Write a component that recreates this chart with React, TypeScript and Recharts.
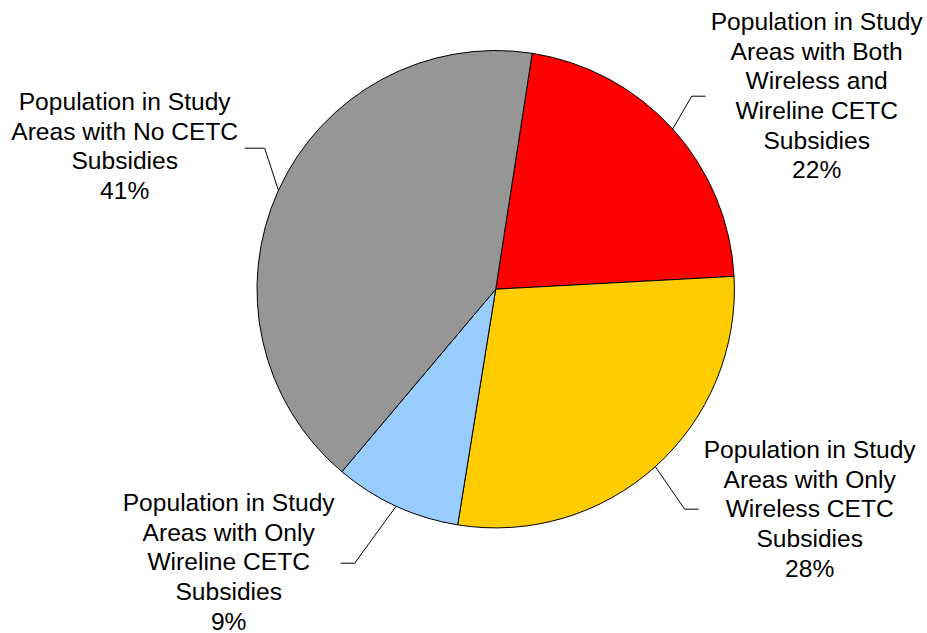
import React from "react";
import { PieChart, Pie, Cell } from "recharts";

const categories = [
  "Population in Study Areas with Both Wireless and Wireline CETC Subsidies",
  "Population in Study Areas with Only Wireless CETC Subsidies",
  "Population in Study Areas with Only Wireline CETC Subsidies",
  "Population in Study Areas with No CETC Subsidies",
];
const labelLines = [
  ["Population in Study", "Areas with Both", "Wireless and", "Wireline CETC", "Subsidies"],
  ["Population in Study", "Areas with Only", "Wireless CETC", "Subsidies"],
  ["Population in Study", "Areas with Only", "Wireline CETC", "Subsidies"],
  ["Population in Study", "Areas with No CETC", "Subsidies"],
];
const shares = [21.7, 28.4, 8.6, 41.3];
const colors = ["#FF0000", "#FFCC00", "#99CCFF", "#969696"];

const data = categories.map((name, i) => ({ name, value: shares[i] }));

// label layout relative to pie center: elbow point, line end x, text center x, first baseline y
const layout = [
  { ex: 196, ey: -193, endX: 210, tx: 321, ty: -259 },
  { ex: 189, ey: 220, endX: 203, tx: 314, ty: 169 },
  { ex: -141, ey: 274, endX: -155, tx: -267, ty: 222 },
  { ex: -231, ey: -141, endX: -251, tx: -371, ty: -179 },
];

const RAD = Math.PI / 180;
const LINE_H = 29.6;

const renderLabel = (props: any) => {
  const { cx, cy, midAngle, outerRadius, index, percent } = props;
  const L = layout[index];
  const sx = cx + outerRadius * Math.cos(-midAngle * RAD);
  const sy = cy + outerRadius * Math.sin(-midAngle * RAD);
  const lines = [...labelLines[index], `${Math.round(percent * 100)}%`];
  return (
    <g>
      <polyline
        points={`${sx},${sy} ${cx + L.ex},${cy + L.ey} ${cx + L.endX},${cy + L.ey}`}
        fill="none"
        stroke="#000"
        strokeWidth={1}
      />
      <text
        x={cx + L.tx}
        y={cy + L.ty}
        textAnchor="middle"
        fill="#000"
        fontFamily="'Liberation Sans', Arial, sans-serif"
        fontSize={24.6}
      >
        {lines.map((t, i) => (
          <tspan key={i} x={cx + L.tx} y={cy + L.ty + i * LINE_H}>
            {t}
          </tspan>
        ))}
      </text>
    </g>
  );
};

export default function App() {
  return (
    <div style={{ width: 927, height: 633, background: "#fff" }}>
      <style>{"html,body{margin:0;padding:0;}"}</style>
      <PieChart width={927} height={633} margin={{ top: 0, right: 0, bottom: 0, left: 0 }}>
        <Pie
          data={data}
          dataKey="value"
          nameKey="name"
          cx={495.7}
          cy={289.2}
          outerRadius={238.7}
          startAngle={81.2}
          endAngle={-278.8}
          stroke="#000"
          strokeWidth={1}
          label={renderLabel}
          labelLine={false}
          isAnimationActive={false}
        >
          {data.map((d, i) => (
            <Cell key={d.name} fill={colors[i]} />
          ))}
        </Pie>
      </PieChart>
    </div>
  );
}
